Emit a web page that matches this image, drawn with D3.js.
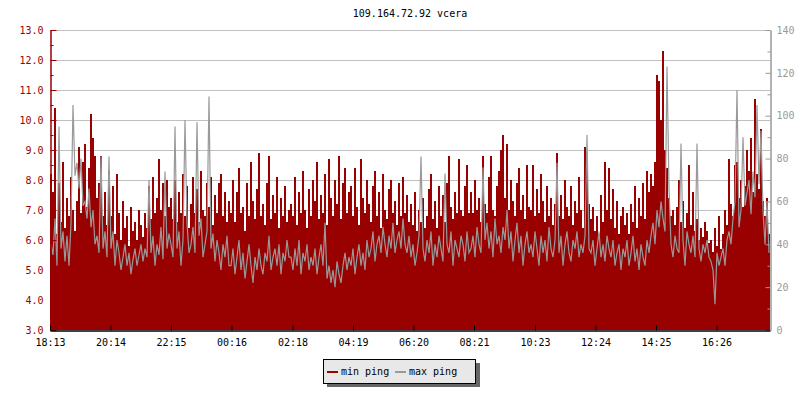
<!DOCTYPE html>
<html>
<head>
<meta charset="utf-8">
<script src="https://cdn.jsdelivr.net/npm/d3@7"></script>
<style>
  html, body { margin: 0; padding: 0; background: #ffffff; }
  svg { display: block; }
  text { font-family: "DejaVu Sans Mono", "Liberation Mono", monospace; font-size: 10px; }
</style>
</head>
<body>
<svg id="chart" width="800" height="400"></svg>
<script>
// ---------- data ----------
const chartTitle = "109.164.72.92 vcera";
const seriesNames = ["min ping", "max ping"];
const stepMinutes = 4;          // one sample every 4 minutes, start 18:13
const totalMinutes = 1440;
const tickLabels = ["18:13", "20:14", "22:15", "00:16", "02:18", "04:19", "06:20", "08:21", "10:23", "12:24", "14:25", "16:26"];
const tickMinutes = [0, 121, 242, 363, 485, 606, 727, 848, 970, 1091, 1212, 1333];
const leftTicks = [3, 4, 5, 6, 7, 8, 9, 10, 11, 12, 13];
const rightTicks = [0, 20, 40, 60, 80, 100, 120, 140];

// min ping (left axis)
const minPing = [
  8.2, 7.6, 10.4, 6.2, 7.9, 6.6, 8.6, 6.4, 7.4, 6.8, 8.1, 7.0, 6.3, 7.3, 9.1, 6.9, 8.6, 9.2, 7.1, 8.4, 10.2, 9.4, 8.8, 7.4, 7.9, 8.8, 6.8, 7.6, 6.5, 8.3,
  6.8, 7.8, 6.2, 8.2, 6.9, 6.0, 7.3, 6.4, 6.8, 5.8, 7.1, 6.3, 6.6, 6.0, 7.0, 6.5, 6.1, 6.9, 6.4, 7.8, 6.7, 8.1, 6.9, 7.4, 8.7, 7.0, 7.9, 6.8, 8.0, 7.1,
  7.4, 6.7, 8.0, 6.6, 7.6, 6.9, 8.2, 6.8, 7.8, 6.4, 7.2, 8.1, 6.9, 7.7, 6.6, 8.3, 7.0, 6.8, 7.9, 7.1, 8.1, 6.5, 7.5, 6.9, 7.9, 8.2, 6.8, 7.6, 6.6, 7.3,
  6.9, 8.0, 6.6, 7.6, 8.4, 6.9, 7.1, 6.3, 7.9, 6.8, 8.6, 7.3, 6.7, 7.7, 8.9, 6.8, 7.2, 6.5, 7.9, 8.8, 6.7, 7.5, 6.9, 8.1, 6.4, 7.4, 6.8, 7.8, 6.6, 7.0,
  7.2, 6.8, 8.1, 6.5, 7.6, 6.9, 8.3, 7.0, 6.4, 7.7, 6.8, 8.0, 7.3, 8.6, 6.7, 7.5, 6.9, 8.2, 6.5, 8.7, 7.4, 6.8, 8.0, 7.2, 8.8, 6.7, 7.9, 8.4, 6.9, 7.6,
  7.8, 6.8, 8.4, 7.1, 6.5, 8.7, 7.4, 6.9, 8.0, 7.2, 6.6, 7.8, 8.3, 6.8, 7.6, 6.4, 8.2, 7.0, 6.7, 7.7, 8.0, 6.9, 7.3, 6.5, 7.9, 6.8, 8.1, 6.9, 7.5, 6.6,
  7.2, 6.5, 7.6, 6.3, 7.0, 6.6, 7.4, 6.4, 6.8, 7.7, 8.2, 6.7, 7.3, 6.4, 7.8, 6.8, 7.5, 6.6, 7.9, 8.8, 7.1, 6.7, 7.6, 6.9, 8.7, 7.0, 6.8, 7.8, 8.5, 6.9,
  7.6, 6.9, 8.0, 7.0, 7.4, 6.6, 8.8, 7.2, 6.9, 8.1, 8.8, 7.0, 6.8, 7.8, 8.3, 9.0, 9.5, 7.4, 9.2, 7.0, 8.0, 7.3, 6.8, 7.9, 8.4, 7.0, 7.5, 6.7, 8.5, 7.1,
  7.0, 8.5, 6.8, 7.7, 6.9, 8.2, 7.3, 6.6, 7.8, 6.8, 7.4, 6.5, 7.2, 8.9, 6.8, 7.5, 6.7, 8.0, 7.1, 6.8, 7.8, 6.5, 7.3, 6.9, 8.1, 7.0, 6.4, 9.1, 8.4, 7.2,
  6.7, 7.1, 6.3, 6.8, 6.2, 7.5, 6.6, 8.6, 7.0, 8.4, 6.7, 7.7, 6.4, 7.3, 6.2, 6.8, 7.1, 6.5, 6.9, 6.2, 7.2, 6.6, 7.8, 6.4, 7.4, 6.8, 7.9, 6.7, 8.3, 7.6,
  8.2, 7.8, 8.6, 11.5, 11.3, 10.0, 12.3, 9.0, 8.4, 7.4, 6.8, 7.0, 6.5, 7.1, 8.0, 6.6, 7.3, 6.4, 6.9, 8.5, 6.5, 7.6, 6.3, 6.7, 6.0, 6.4, 6.1, 6.6, 6.3, 5.9,
  6.0, 5.6, 6.4, 5.8, 6.8, 5.7, 6.2, 7.0, 6.5, 8.7, 7.2, 6.8, 8.5, 8.6, 7.4, 8.0, 7.1, 7.8, 9.0, 8.3, 9.4, 7.6, 10.7, 8.2, 7.7, 9.7, 7.3, 6.8, 7.4, 6.2
];

// max ping (right axis)
const maxPing = [
  40, 35, 52, 30, 95, 38, 46, 32, 44, 30, 50, 105, 72, 78, 66, 80, 58, 60, 52, 66, 48, 56, 40, 44, 36, 81, 38, 46, 34, 81,
  38, 46, 30, 42, 36, 28, 34, 40, 30, 36, 26, 33, 38, 30, 35, 40, 32, 38, 34, 70, 36, 44, 30, 40, 35, 48, 33, 74, 38, 45,
  40, 34, 95, 38, 46, 30, 42, 98, 50, 36, 40, 48, 36, 97, 44, 52, 34, 40, 46, 109, 38, 45, 32, 42, 36, 28, 40, 34, 44, 30,
  30, 38, 26, 34, 42, 28, 36, 24, 32, 40, 30, 22, 34, 28, 38, 30, 26, 36, 32, 44, 28, 34, 38, 30, 40, 26, 36, 32, 42, 34,
  34, 28, 38, 30, 42, 26, 36, 32, 40, 28, 34, 30, 38, 26, 34, 40, 30, 50, 24, 30, 22, 28, 20, 32, 26, 22, 30, 36, 28, 34,
  30, 38, 26, 34, 40, 30, 36, 28, 42, 34, 38, 46, 32, 40, 44, 36, 48, 40, 34, 44, 38, 50, 36, 42, 46, 38, 52, 40, 36, 44,
  34, 40, 30, 36, 44, 81, 38, 32, 42, 36, 46, 30, 40, 34, 44, 38, 32, 73, 40, 36, 46, 30, 42, 38, 34, 44, 40, 32, 46, 36,
  38, 44, 34, 48, 40, 36, 76, 42, 50, 38, 46, 34, 52, 40, 44, 36, 48, 42, 56, 38, 46, 32, 42, 50, 36, 44, 30, 40, 46, 36,
  40, 34, 46, 38, 30, 44, 36, 42, 32, 48, 38, 34, 42, 78, 36, 44, 30, 40, 46, 36, 32, 42, 38, 46, 34, 40, 36, 44, 91, 38,
  36, 42, 30, 38, 46, 34, 40, 32, 44, 38, 34, 42, 30, 36, 40, 28, 38, 34, 42, 30, 36, 44, 32, 38, 28, 40, 34, 30, 42, 36,
  44, 50, 40, 56, 48, 60, 52, 46, 123, 66, 40, 34, 44, 38, 36, 87, 42, 30, 46, 40, 36, 44, 34, 87, 38, 32, 40, 36, 42, 34,
  32, 28, 12, 36, 30, 34, 38, 30, 42, 46, 40, 52, 60, 112, 48, 56, 90, 58, 64, 70, 54, 74, 62, 105, 68, 93, 56, 40, 60, 36
];

// ---------- drawing ----------
const RED = "#990000";
const GREY = "#999999";
const svg = d3.select("#chart");
svg.append("rect").attr("width", 800).attr("height", 400).attr("fill", "#ffffff");

const x = d3.scaleLinear().domain([0, totalMinutes]).range([50, 770]);
const yL = d3.scaleLinear().domain([3, 13]).range([330, 30]);
const yR = d3.scaleLinear().domain([0, 140]).range([330, 30]);

// gridlines
svg.append("g").selectAll("line").data(leftTicks.filter(v => v > 3)).join("line")
  .attr("x1", x(0)).attr("x2", x(totalMinutes))
  .attr("y1", d => Math.round(yL(d)) + 0.5).attr("y2", d => Math.round(yL(d)) + 0.5)
  .attr("stroke", "#c0c0c0").attr("stroke-width", 1);

// min ping bars
const minData = minPing.map((v, i) => ({ t: i * stepMinutes, v }));
svg.append("g").attr("shape-rendering", "crispEdges").selectAll("rect").data(minData).join("rect")
  .attr("x", d => x(d.t))
  .attr("width", d => x(d.t + stepMinutes) - x(d.t))
  .attr("y", d => yL(d.v))
  .attr("height", d => yL(3) - yL(d.v))
  .attr("fill", RED);

// max ping line
const maxData = maxPing.map((v, i) => ({ t: i * stepMinutes, v }));
const line = d3.line().x(d => x(d.t) + 1).y(d => yR(d.v));
svg.append("path").datum(maxData).attr("d", line)
  .attr("fill", "none").attr("stroke", GREY).attr("stroke-width", 1.2);

// left axis
const gL = svg.append("g").attr("transform", "translate(50.5,0)");
gL.call(d3.axisLeft(yL).tickValues(leftTicks).tickFormat(d3.format(".1f")).tickSizeInner(-6).tickSizeOuter(0).tickPadding(7));
gL.call(g => g.append("g").call(d3.axisLeft(yL).tickValues(d3.range(3.5, 13, 1)).tickFormat("").tickSizeInner(-3).tickSizeOuter(0)));
gL.selectAll("path, line").attr("stroke", RED);
gL.selectAll("text").attr("fill", RED).style("font-size", "10px").style("font-family", "DejaVu Sans Mono, monospace");

// right axis
const gR = svg.append("g").attr("transform", "translate(770.5,0)");
gR.call(d3.axisRight(yR).tickValues(rightTicks).tickSizeInner(-5).tickSizeOuter(0).tickPadding(6));
gR.call(g => g.append("g").call(d3.axisRight(yR).tickValues(d3.range(10, 140, 20)).tickFormat("").tickSizeInner(-3).tickSizeOuter(0)));
gR.selectAll("path, line").attr("stroke", GREY);
gR.selectAll("text").attr("fill", GREY).style("font-size", "10px").style("font-family", "DejaVu Sans Mono, monospace");

// bottom axis
const gB = svg.append("g").attr("transform", "translate(0,330.5)");
gB.call(d3.axisBottom(x).tickValues(tickMinutes).tickFormat((d, i) => tickLabels[i]).tickSizeInner(-5).tickSizeOuter(0).tickPadding(8));
gB.selectAll("path, line").attr("stroke", "#000").attr("stroke-width", 1);
gB.select("path.domain").attr("stroke-width", 1.5);
gB.selectAll("text").attr("fill", "#000").style("font-size", "10px").style("font-family", "DejaVu Sans Mono, monospace");

// title
svg.append("text").attr("x", 410).attr("y", 17).attr("text-anchor", "middle").attr("fill", "#000").text(chartTitle);

// legend
const lg = svg.append("g").attr("shape-rendering", "crispEdges");
lg.append("rect").attr("x", 327).attr("y", 363).attr("width", 153).attr("height", 24).attr("fill", "#666666");
lg.append("rect").attr("x", 323.5).attr("y", 359.5).attr("width", 152).attr("height", 24).attr("fill", "#e8e8e8").attr("stroke", "#000");
const legendItems = [
  { name: seriesNames[0], color: RED, x0: 327, tx: 341 },
  { name: seriesNames[1], color: GREY, x0: 395, tx: 409 }
];
legendItems.forEach(it => {
  lg.append("line").attr("x1", it.x0).attr("x2", it.x0 + 11).attr("y1", 372).attr("y2", 372)
    .attr("stroke", it.color).attr("stroke-width", 2);
  svg.append("text").attr("x", it.tx).attr("y", 375).attr("fill", "#000").text(it.name);
});
</script>
</body>
</html>
